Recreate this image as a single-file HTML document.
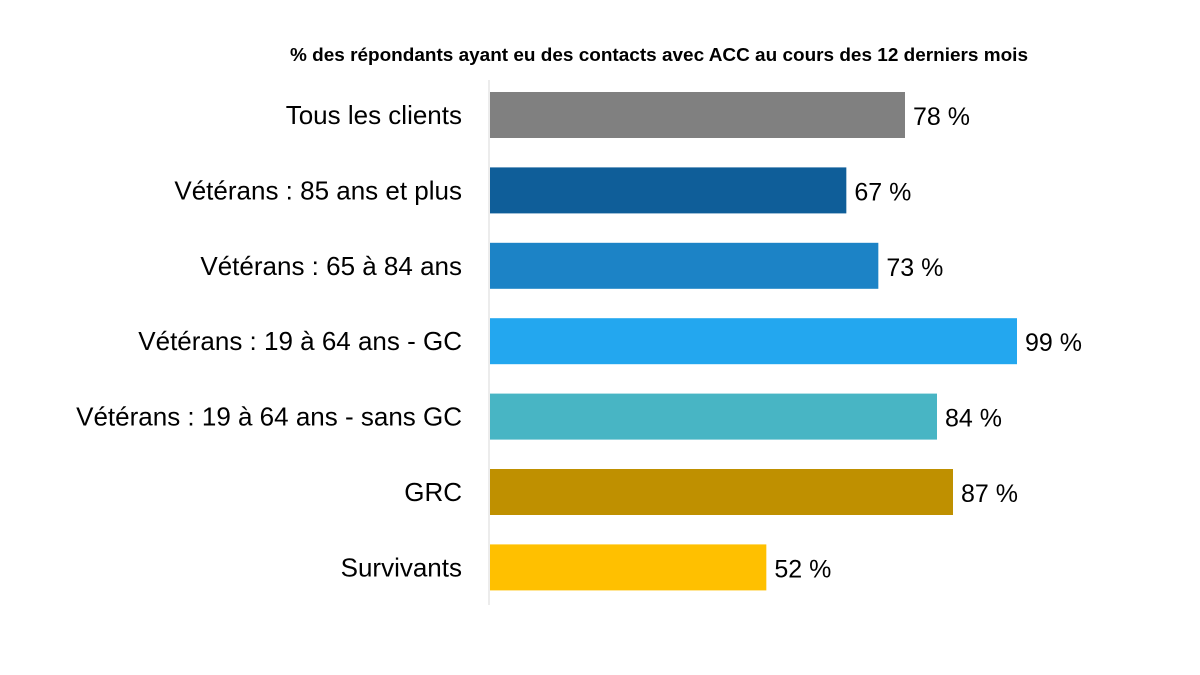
<!DOCTYPE html>
<html><head><meta charset="utf-8"><style>
body{margin:0;background:#fff;}
svg{display:block;font-family:"Liberation Sans",sans-serif;}
</style></head><body>
<svg id="chart" width="1200" height="675" viewBox="0 0 1200 675">
<text x="659" y="61" text-anchor="middle" font-size="18.5" font-weight="bold" fill="#000" textLength="738" lengthAdjust="spacingAndGlyphs">% des répondants ayant eu des contacts avec ACC au cours des 12 derniers mois</text>
<line x1="489" y1="80" x2="489" y2="605" stroke="#d9d9d9" stroke-width="1"/>
<g id="bars"></g>
</svg>
<script>
const categories=["Tous les clients","Vétérans : 85 ans et plus","Vétérans : 65 à 84 ans","Vétérans : 19 à 64 ans - GC","Vétérans : 19 à 64 ans - sans GC","GRC","Survivants"];
const values=[78,67,73,99,84,87,52];
const colors=["#808080","#0f5e99","#1c83c6","#23a7ef","#48b5c4","#bf9000","#ffc000"];
const x0=489,pxPer=(1017-489)/99;
const xs=v=>x0+v*pxPer;
const yTop=92,step=75.4,bh=46;
const g=document.getElementById('bars');
const NS='http://www.w3.org/2000/svg';
categories.forEach((c,i)=>{
  const y=yTop+i*step;
  const r=document.createElementNS(NS,'rect');
  r.setAttribute('x',x0+1);r.setAttribute('y',y);
  r.setAttribute('width',xs(values[i])-x0-1);r.setAttribute('height',bh);
  r.setAttribute('fill',colors[i]);
  
  
  g.appendChild(r);
  const t=document.createElementNS(NS,'text');
  t.setAttribute('x',462);t.setAttribute('y',y+bh/2+9);
  t.setAttribute('text-anchor','end');t.setAttribute('font-size','26');
  t.textContent=c;
  
  
  g.appendChild(t);
  const v=document.createElementNS(NS,'text');
  v.setAttribute('x',xs(values[i])+8);v.setAttribute('y',y+bh/2+10);
  v.setAttribute('font-size','25');
  v.textContent=values[i]+' %';
  
  
  g.appendChild(v);
});
</script>
</body></html>
